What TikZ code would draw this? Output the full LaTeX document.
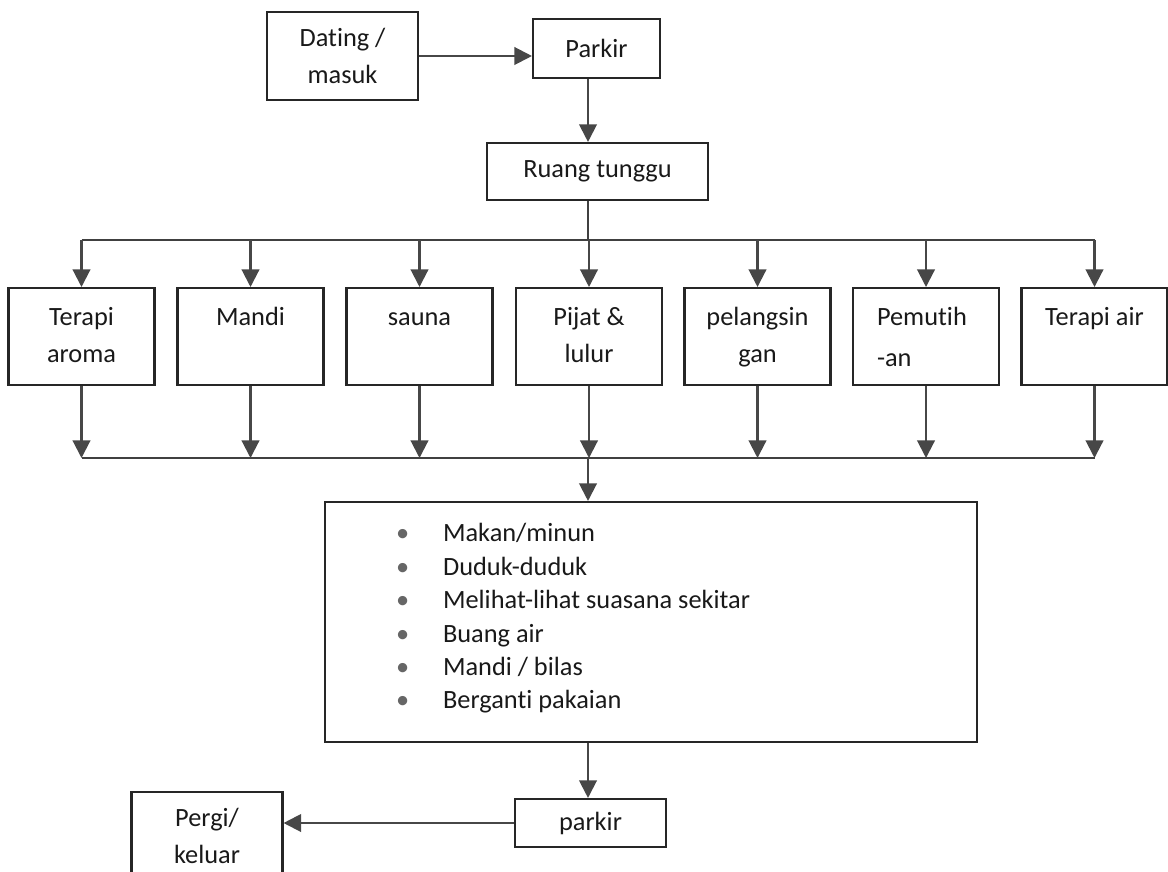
\documentclass[tikz,border=0pt]{standalone}
\usepackage{fontspec}
\setmainfont{Carlito}[Ligatures=NoCommon]
\usetikzlibrary{arrows.meta}
% Inhalt der Leistungskaesten, Text oben
\newcommand{\isikotak}[2]{\parbox[c][1.94cm][t]{2.92cm}{#1\rule{0pt}{21.5pt}#2}}
\begin{document}
\begin{tikzpicture}[
        x=0.02cm, y=-0.02cm,
        font=\fontsize{15}{21}\selectfont,
        text=black!90,
        kotak/.style={
            draw=black!85,
            line width=1.2pt,
            align=center,
            inner sep=0pt
        },
        layanan/.style={
            kotak,
            anchor=north
        },
        panah/.style={
            draw=black!72,
            line width=1.2pt,
            -{Triangle[width=10pt,length=10pt]}
        },
        garis/.style={
            draw=black!75,
            line width=1.5pt
        }
    ]
    \useasboundingbox (0,0) rectangle (1168,871);
    \clip (0,0) rectangle (1168,871);
    % Eingang
    \node[kotak, minimum width=3.02cm, minimum height=1.76cm] (dating) at (342.5,56) {Dating /\\masuk};
    \node[kotak, minimum width=2.54cm, minimum height=1.18cm] (parkirA) at (596.5,48.5) {Parkir};
    \node[kotak, minimum width=4.42cm, minimum height=1.14cm] (ruang) at (597.5,171.5) {Ruang tunggu};
    \coordinate (split) at (588,240);
    \coordinate (join) at (588,458);
    \draw[panah] (dating.east) -- (dating.east -| parkirA.west);
    \draw[panah] (parkirA.south -| split) -- (ruang.north -| split);
    \draw[garis] (ruang.south -| split) -- (split);
    % Leistungen
    \node[layanan] (aroma) at (81.5,287) {\isikotak{\centering}{Terapi\\aroma}};
    \node[layanan] (mandi) at (250.5,287) {\isikotak{\centering}{Mandi}};
    \node[layanan] (sauna) at (419.5,287) {\isikotak{\centering}{sauna}};
    \node[layanan] (pijat) at (589,287) {\isikotak{\centering}{Pijat \&\\lulur}};
    \node[layanan] (langsing) at (757.5,287) {\isikotak{\centering}{pelangsin\\gan}};
    \node[layanan] (putih) at (926,287) {\isikotak{\raggedright\setlength\leftskip{0.48cm}}{Pemutih\\[2pt]-an}};
    \node[layanan] (air) at (1094.5,287) {\isikotak{\centering}{Terapi air}};
    \draw[garis] (aroma.north |- split) -- (air.north |- split);
    \draw[garis] (aroma.south |- join) -- (air.south |- join);
    \foreach \b in {aroma,mandi,sauna,pijat,langsing,putih,air} {
        \draw[panah] (\b.north |- split) -- (\b.north);
        \draw[panah] (\b.south) -- (\b.south |- join);
    }
    % Aktivitaeten
    \node[kotak, minimum width=13.04cm, minimum height=4.8cm] (aktivitas) at (651,622)
        {\parbox[c][4.8cm][t]{13.04cm}{\fontsize{15}{19}\selectfont
         \setlength\leftskip{1.42cm}\rule{0pt}{22.7pt}%
         \makebox[0.94cm][l]{\textcolor{black!60}{\textbullet}}Makan/minun\\
         \makebox[0.94cm][l]{\textcolor{black!60}{\textbullet}}Duduk-duduk\\
         \makebox[0.94cm][l]{\textcolor{black!60}{\textbullet}}Melihat-lihat suasana sekitar\\
         \makebox[0.94cm][l]{\textcolor{black!60}{\textbullet}}Buang air\\
         \makebox[0.94cm][l]{\textcolor{black!60}{\textbullet}}Mandi / bilas\\
         \makebox[0.94cm][l]{\textcolor{black!60}{\textbullet}}Berganti pakaian}};
    \draw[panah] (join) -- (aktivitas.north -| join);
    % Ausgang
    \node[kotak, minimum width=3.02cm, minimum height=0.96cm] (parkirB) at (590.5,823) {parkir};
    \node[kotak, minimum width=3.02cm, minimum height=1.76cm] (pergi) at (207,836) {Pergi/\\keluar};
    \draw[panah] (aktivitas.south -| join) -- (parkirB.north -| join);
    \draw[panah] (parkirB.west) -- (parkirB.west -| pergi.east);
\end{tikzpicture}
\end{document}
